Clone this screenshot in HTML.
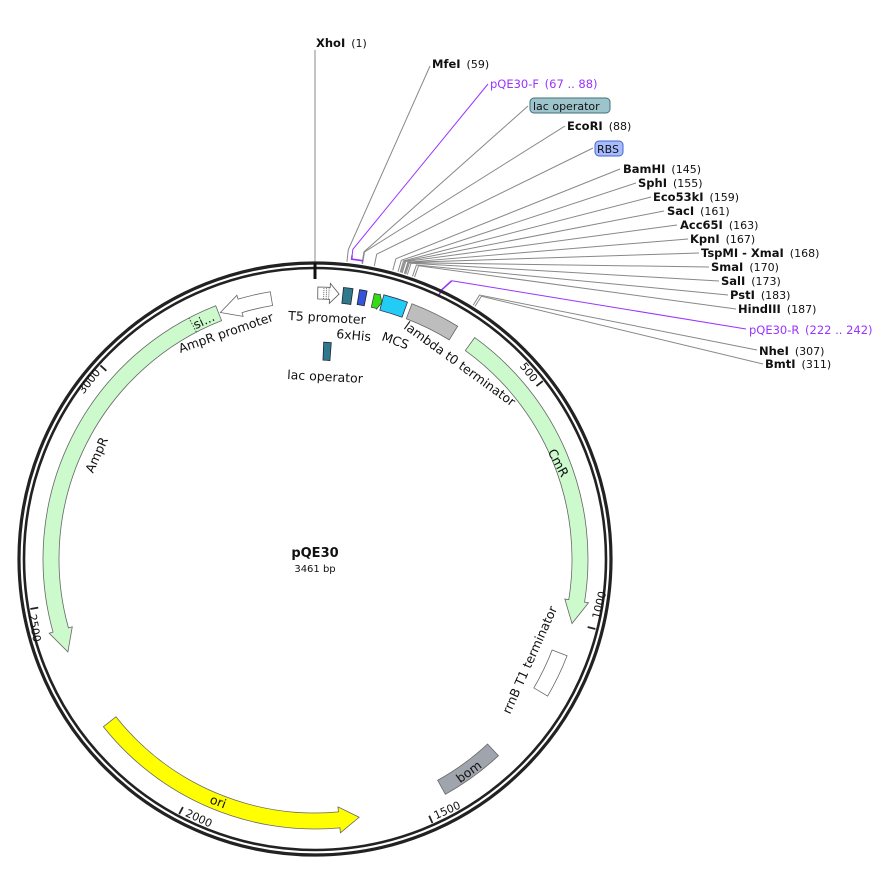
<!DOCTYPE html>
<html><head><meta charset="utf-8"><style>
html,body{margin:0;padding:0;background:#fff;width:896px;height:884px;overflow:hidden}
svg{display:block}
text{font-family:"DejaVu Sans","Liberation Sans",sans-serif;fill:#111}
.b{font-weight:bold;font-size:11.5px}
.n{font-size:11px}
.f{font-size:12.5px}
.p{fill:#9933ff;font-size:11.5px}
.t{font-size:11px}
</style></head><body>
<svg id="s" width="896" height="884" viewBox="0 0 896 884" xmlns="http://www.w3.org/2000/svg">
<g id="shapes"></g>
<text x="316" y="47"><tspan class="b">XhoI</tspan><tspan class="n" dx="6">(1)</tspan></text>
<text x="432" y="68"><tspan class="b">MfeI</tspan><tspan class="n" dx="6">(59)</tspan></text>
<text x="490" y="88" class="p">pQE30-F <tspan dx="2">(67 .. 88)</tspan></text>
<rect x="530" y="98" width="80" height="15" rx="4" fill="#9ec4cb" stroke="#3d6f78" stroke-width="1"/>
<text x="533" y="110" class="t">lac operator</text>
<text x="567" y="130"><tspan class="b">EcoRI</tspan><tspan class="n" dx="6">(88)</tspan></text>
<rect x="595" y="141" width="28" height="15" rx="4" fill="#a6bcff" stroke="#4466cc" stroke-width="1"/>
<text x="597" y="153" class="t">RBS</text>
<text x="623" y="173"><tspan class="b">BamHI</tspan><tspan class="n" dx="6">(145)</tspan></text>
<text x="638" y="187"><tspan class="b">SphI</tspan><tspan class="n" dx="6">(155)</tspan></text>
<text x="653" y="201"><tspan class="b">Eco53kI</tspan><tspan class="n" dx="6">(159)</tspan></text>
<text x="667" y="215"><tspan class="b">SacI</tspan><tspan class="n" dx="6">(161)</tspan></text>
<text x="680" y="229"><tspan class="b">Acc65I</tspan><tspan class="n" dx="6">(163)</tspan></text>
<text x="690" y="243"><tspan class="b">KpnI</tspan><tspan class="n" dx="6">(167)</tspan></text>
<text x="701" y="257"><tspan class="b">TspMI - XmaI</tspan><tspan class="n" dx="6">(168)</tspan></text>
<text x="711" y="271"><tspan class="b">SmaI</tspan><tspan class="n" dx="6">(170)</tspan></text>
<text x="721" y="285"><tspan class="b">SalI</tspan><tspan class="n" dx="6">(173)</tspan></text>
<text x="730" y="299"><tspan class="b">PstI</tspan><tspan class="n" dx="6">(183)</tspan></text>
<text x="738" y="313"><tspan class="b">HindIII</tspan><tspan class="n" dx="6">(187)</tspan></text>
<text x="749" y="334" class="p">pQE30-R <tspan dx="2">(222 .. 242)</tspan></text>
<text x="759" y="355"><tspan class="b">NheI</tspan><tspan class="n" dx="6">(307)</tspan></text>
<text x="765" y="368"><tspan class="b">BmtI</tspan><tspan class="n" dx="6">(311)</tspan></text>
<text x="315" y="557" text-anchor="middle" style="font-weight:bold;font-size:13px">pQE30</text>
<text x="315" y="572" text-anchor="middle" style="font-size:10px">3461 bp</text>
<text class="f" x="288" y="320" transform="rotate(3 288 320)">T5 promoter</text>
<text class="f" x="336" y="338" transform="rotate(5 336 338)">6xHis</text>
<text class="f" x="381" y="340" transform="rotate(20 381 340)">MCS</text>
<text class="f" x="403" y="328" transform="rotate(36 403 328)">lambda t0 terminator</text>
<text class="f" x="287" y="379" transform="rotate(3 287 379)">lac operator</text>
<text class="f" x="558" y="467" text-anchor="middle" transform="rotate(62 558 463)">CmR</text>
<text class="f" x="97" y="459" text-anchor="middle" transform="rotate(-66 97 455)">AmpR</text>
<text class="f" x="226" y="337" text-anchor="middle" transform="rotate(-19 226 333)">AmpR promoter</text>
<text class="f" x="530" y="664" text-anchor="middle" transform="rotate(-66 530 660)">rrnB T1 terminator</text>
<text class="f" x="469" y="776" text-anchor="middle" transform="rotate(-36 469 772)">bom</text>
<text class="f" x="218" y="806" text-anchor="middle" transform="rotate(21 218 802)">ori</text>
<text class="f" x="204" y="325" text-anchor="middle" transform="rotate(-25 204 321)">si...</text>
<text class="t" x="529" y="376" text-anchor="middle" transform="rotate(52 529 372)">500</text>
<text class="t" x="599" y="609" text-anchor="middle" transform="rotate(-76 599 605)">1000</text>
<text class="t" x="447" y="814" text-anchor="middle" transform="rotate(-24 447 810)">1500</text>
<text class="t" x="199" y="822" text-anchor="middle" transform="rotate(25 199 818)">2000</text>
<text class="t" x="35" y="632" text-anchor="middle" transform="rotate(80 35 628)">2500</text>
<text class="t" x="89" y="385" text-anchor="middle" transform="rotate(-52 89 381)">3000</text>
</svg>
<script>
(function(){
var cx=315,cy=559,N=3461,g=document.getElementById('shapes'),NS='http://www.w3.org/2000/svg';
function P(r,a){a*=Math.PI/180;return [cx+r*Math.sin(a),cy-r*Math.cos(a)];}
function f(p){return p[0].toFixed(2)+' '+p[1].toFixed(2);}
function A(r,a1,a2){var s=a2>a1?1:0,l=Math.abs(a2-a1)>180?1:0;return 'A'+r+' '+r+' 0 '+l+' '+s+' '+f(P(r,a2));}
function el(n,at){var e=document.createElementNS(NS,n);for(var k in at)e.setAttribute(k,at[k]);g.appendChild(e);return e;}
function band(r1,r2,a1,a2,fill,st){el('path',{d:'M'+f(P(r2,a1))+A(r2,a1,a2)+'L'+f(P(r1,a2))+A(r1,a2,a1)+'Z',fill:fill,stroke:st||'#666','stroke-width':0.8});}
function arrow(r,w,hw,a1,a2,hd,fill,st){var d=a2>a1?1:-1,b=a2-d*hd;
 el('path',{d:'M'+f(P(r+w,a1))+A(r+w,a1,b)+'L'+f(P(r+hw,b))+'L'+f(P(r,a2))+'L'+f(P(r-hw,b))+'L'+f(P(r-w,b))+A(r-w,b,a1)+'Z',fill:fill,stroke:st||'#666','stroke-width':0.8});}
function bp(x){return x/N*360;}
var L=[[59,430,66],[87,528,106],[88,565,126],[110,593,148],
[145,620,169],[155,636,183],[159,651,197],[161,664,211],[163,677,225],[167,688,239],[168,699,253],[170,709,267],[173,719,281],[183,728,295],[187,736,309],[307,757,350],[311,763,364]];
L.forEach(function(l){var a=bp(l[0]);var p0=P(299,a),p1=P(311,a);
 el('polyline',{points:f(p0)+','+f(p1)+','+l[1]+' '+l[2],fill:'none',stroke:'#888','stroke-width':1});});
el('line',{x1:315,y1:263,x2:315,y2:50,stroke:'#888','stroke-width':1});
var a1=bp(67),a2=bp(88);
el('path',{d:'M'+f(P(306,a1))+'L'+f(P(302,a1))+A(302,a1,a2),fill:'none',stroke:'#9933ff','stroke-width':1.6});
el('polyline',{points:f(P(306,a1))+','+f(P(312,a1))+',488 84',fill:'none',stroke:'#9933ff','stroke-width':1});
a1=bp(222);a2=bp(242);
el('path',{d:'M'+f(P(291,a1))+A(291,a1,a2)+'L'+f(P(297,a2))+'L'+f(P(310,a2+1)),fill:'none',stroke:'#9933ff','stroke-width':1.6});
el('line',{x1:P(310,a2+1)[0],y1:P(310,a2+1)[1],x2:746,y2:329,stroke:'#9933ff','stroke-width':1});
el('circle',{cx:cx,cy:cy,r:296,fill:'none',stroke:'#222','stroke-width':3.2});
el('circle',{cx:cx,cy:cy,r:291,fill:'none',stroke:'#222','stroke-width':2.6});
[500,1000,1500,2000,2500,3000].forEach(function(b){var a=bp(b);var p=P(289,a),q=P(281,a);el('line',{x1:p[0],y1:p[1],x2:q[0],y2:q[1],stroke:'#222','stroke-width':1.8});});
el('line',{x1:315,y1:263,x2:315,y2:279,stroke:'#111','stroke-width':3});
arrow(264,8,12,338.6,249.4,5,'#ccfacc');
var d1=P(256,332.4),d2=P(272,332.4);el('line',{x1:d1[0],y1:d1[1],x2:d2[0],y2:d2[1],stroke:'#444','stroke-width':1,'stroke-dasharray':'1.5 1.5'});
arrow(264,7,11,350.5,339,4.5,'#fff','#666');
arrow(265,8,12,35.8,104.1,5,'#ccfacc');
arrow(262,8,13,231.6,170.3,4.4,'#ffff00');
band(253,269,137,151,'#a0a5ad');
band(254,270,111,120.5,'#fff');
band(257,273,20.8,31.5,'#bdbdbd');
band(257,273,14.6,19.8,'#22ccf5','#335');
arrow(265,7,8,12.6,14.6,0.8,'#33dd11','#444');
band(258,273,9.4,11.0,'#3355dd','#223');
band(257,273,6.0,8.0,'#2e7a8c','#223');
band(199,217,2.3,4.3,'#2e7a8c','#223');
arrow(266,6,10,0.6,5.2,2,'#fff','#555');
for(var i=0;i<3;i++){var a=1.9+i*0.55;var p=P(260,a),q=P(272,a);el('line',{x1:p[0],y1:p[1],x2:q[0],y2:q[1],stroke:'#444','stroke-width':0.8,'stroke-dasharray':'1 1'});}
})();
</script>
</body></html>
